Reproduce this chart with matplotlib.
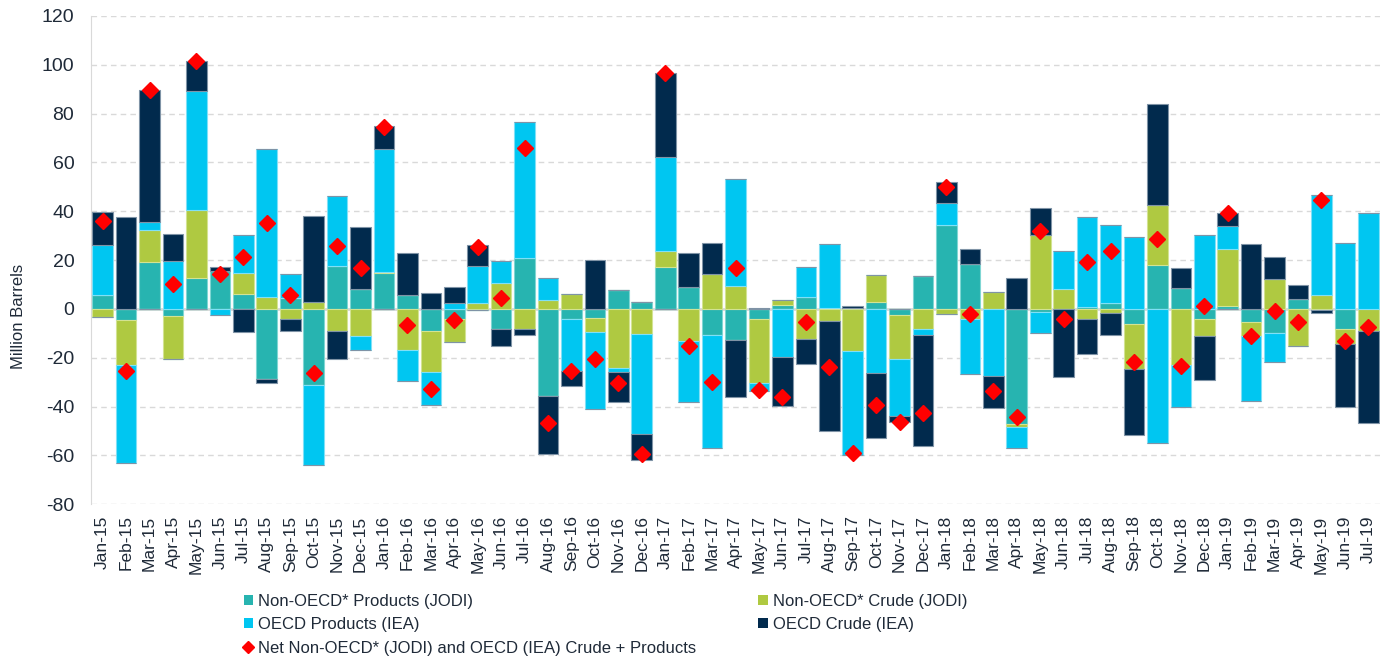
import matplotlib
matplotlib.use("Agg")
import matplotlib.pyplot as plt
import numpy as np
from matplotlib.patches import Patch
from matplotlib.lines import Line2D

plt.rcParams['font.family'] = ['Liberation Sans', 'DejaVu Sans']
plt.rcParams['axes.unicode_minus'] = False

months = ["Jan-15","Feb-15","Mar-15","Apr-15","May-15","Jun-15","Jul-15","Aug-15","Sep-15","Oct-15","Nov-15","Dec-15",
          "Jan-16","Feb-16","Mar-16","Apr-16","May-16","Jun-16","Jul-16","Aug-16","Sep-16","Oct-16","Nov-16","Dec-16",
          "Jan-17","Feb-17","Mar-17","Apr-17","May-17","Jun-17","Jul-17","Aug-17","Sep-17","Oct-17","Nov-17","Dec-17",
          "Jan-18","Feb-18","Mar-18","Apr-18","May-18","Jun-18","Jul-18","Aug-18","Sep-18","Oct-18","Nov-18","Dec-18",
          "Jan-19","Feb-19","Mar-19","Apr-19","May-19","Jun-19","Jul-19"]

non_oecd_products = [5.7,-4.5,19.1,-2.9,12.6,15.6,6.0,-28.8,4.4,-31.2,17.6,8.2,
                     14.6,5.7,-8.9,-4.2,-0.5,-8.2,20.7,-35.6,-4.2,-3.8,7.6,2.7,
                     17.1,9.1,-10.6,-12.7,-4.2,1.5,4.8,0.5,0.5,3.0,-2.5,13.6,
                     34.5,18.3,0.0,-47.1,-1.1,0.0,0.7,2.3,-6.1,18.0,8.6,-4.1,
                     1.0,-5.5,-10.0,4.0,-0.5,-8.3,0.0]
non_oecd_crude = [-3.5,-18.4,13.2,-17.6,28.0,0.0,8.9,4.8,-4.1,2.9,-8.9,-11.1,
                  0.7,-16.8,-17.1,-9.3,2.3,10.8,-8.2,3.8,6.3,-5.5,-24.3,-10.4,
                  6.7,-13.0,14.2,9.4,-26.2,2.2,-12.3,-4.9,-17.3,10.8,-18.1,-8.3,
                  -2.0,-4.1,6.8,-1.1,30.3,8.2,-4.2,-1.5,-18.4,24.6,-22.9,-6.8,
                  23.6,-5.6,12.4,-15.1,5.5,-5.9,-9.0]
oecd_products = [20.5,-40.2,3.1,19.6,48.7,-2.5,15.4,60.8,9.8,-32.9,28.8,-5.9,
                 50.1,-12.7,-13.4,2.3,15.1,9.0,55.7,9.0,-21.4,-31.5,-1.4,-40.8,
                 38.6,-25.1,-46.2,43.7,-3.1,-19.8,12.3,26.1,-42.7,-26.3,-23.2,-2.3,
                 8.9,-22.6,-27.3,-8.7,-8.6,15.4,37.1,32.2,29.6,-55.0,-17.2,30.4,
                 9.5,-26.6,-11.6,0.0,41.1,27.1,39.4]
oecd_crude = [13.4,37.8,54.2,10.9,12.3,1.4,-9.3,-1.6,-4.8,35.2,-11.7,25.5,
              9.3,17.2,6.4,6.8,8.6,-7.0,-2.5,-23.9,-6.1,20.2,-12.3,-10.8,
              34.2,13.9,12.7,-23.5,0.4,-20.1,-10.4,-44.9,0.8,-26.6,-2.6,-45.4,
              8.5,6.4,-13.2,12.8,11.2,-27.7,-14.3,-9.1,-27.0,41.1,8.3,-18.4,
              5.0,26.6,8.7,6.0,-1.0,-26.1,-37.5]
net_total = [36.0,-25.4,89.6,10.2,101.5,14.3,21.3,35.3,5.5,-26.1,25.9,16.9,
             74.6,-6.5,-32.7,-4.5,25.5,4.4,65.9,-46.5,-25.4,-20.7,-30.2,-59.2,
             96.6,-15.0,-30.0,16.8,-33.2,-36.0,-5.5,-23.7,-58.8,-39.2,-46.4,-42.7,
             49.8,-2.0,-33.7,-44.1,31.7,-4.1,19.1,23.9,-21.8,28.5,-23.2,1.1,
             39.3,-11.2,-0.7,-5.5,44.6,-13.1,-7.2]

series = [
    ("Non-OECD* Products (JODI)", non_oecd_products, "#27B4B0", "#7FD6D3"),
    ("Non-OECD* Crude (JODI)", non_oecd_crude, "#AFC941", "#D3E392"),
    ("OECD Products (IEA)", oecd_products, "#00C6F1", "#7FE0F7"),
    ("OECD Crude (IEA)", oecd_crude, "#012A4D", "#7F93A6"),
]

text_col = '#1F2A38'

fig = plt.figure(figsize=(13.94, 6.59), dpi=100)
ax = fig.add_axes([0.0653, 0.2347, 0.9247, 0.7413])

x = np.arange(len(months))
pos_base = np.zeros(len(months))
neg_base = np.zeros(len(months))
handles = []
for name, vals, col, edge in series:
    v = np.array(vals, dtype=float)
    pos = np.where(v > 0, v, 0)
    neg = np.where(v < 0, v, 0)
    ax.bar(x, pos, bottom=pos_base, width=0.88, color=col, edgecolor=edge, linewidth=0.8, zorder=3)
    ax.bar(x, neg, bottom=neg_base, width=0.88, color=col, edgecolor=edge, linewidth=0.8, zorder=3)
    pos_base += pos
    neg_base += neg
    handles.append(Patch(facecolor=col, edgecolor='none', label=name))

ax.plot(x, net_total, linestyle='none', marker='D', markersize=8, color='#FF0000',
        markeredgecolor='#FF0000', zorder=5)
net_handle = Line2D([], [], linestyle='none', marker='D', markersize=6, color='#FF0000',
                    label="Net Non-OECD* (JODI) and OECD (IEA) Crude + Products")

ax.set_xlim(-0.5, len(months) - 0.5)
ax.set_ylim(-80, 120)
ax.set_yticks(np.arange(-80, 121, 20))
ax.set_xticks(x)
ax.set_xticklabels(months, rotation=90, fontsize=12.5, color=text_col)
ax.tick_params(axis='y', labelsize=14, colors=text_col, length=0, pad=12)
ax.tick_params(axis='x', length=0, pad=8)
ax.yaxis.grid(True, linestyle=(0, (4, 3)), color='#D9D9D9', linewidth=1.0, zorder=0)
ax.axhline(0, color='#D9D9D9', linewidth=2, zorder=2)
for s in ['top', 'right', 'bottom']:
    ax.spines[s].set_visible(False)
ax.spines['left'].set_color('#D9D9D9')
fig.text(18.5 / 1394, (659 - 369) / 659, "Million Barrels", rotation=90, ha='center', va='bottom',
         fontsize=12, color=text_col)

leg_handles = [handles[0], handles[2], net_handle, handles[1], handles[3]]
fig.legend(handles=leg_handles, ncol=2, loc='upper left', bbox_to_anchor=(0.17, 0.109),
           frameon=False, fontsize=12, handlelength=0.55, handleheight=0.55, handletextpad=0.3,
           columnspacing=3.75, labelspacing=0.5, borderaxespad=0, labelcolor=text_col)

fig.savefig("out.png", dpi=100)
